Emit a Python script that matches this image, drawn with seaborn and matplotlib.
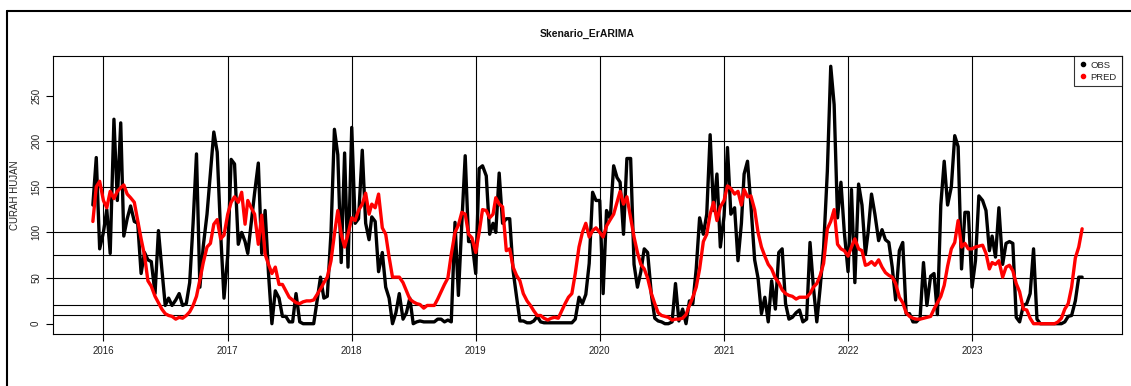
import pandas as pd
import seaborn as sns
import matplotlib.pyplot as plt
import matplotlib.dates as mdates
from matplotlib.lines import Line2D

## Curah hujan dasarian (Des - Nov tiap musim), hasil baca dari grafik
obs_1516 = [130, 182, 82, 100, 125, 77, 224, 135, 220, 96, 115, 129,
            112, 110, 55, 78, 70, 68, 33, 102, 60, 20, 28, 20,
            26, 33, 20, 22, 45, 110, 186, 40, 85, 120, 165, 210]
obs_1617 = [188, 100, 28, 75, 180, 175, 87, 100, 90, 77, 110, 143,
            176, 77, 124, 55, 0, 36, 28, 8, 8, 2, 2, 33,
            2, 0, 0, 0, 0, 25, 51, 28, 30, 100, 213, 185]
obs_1718 = [67, 187, 62, 215, 110, 115, 190, 110, 92, 117, 112, 57,
            78, 40, 28, 0, 12, 33, 5, 12, 28, 0, 2, 3,
            2, 2, 2, 2, 5, 5, 2, 4, 2, 111, 31, 110]
obs_1819 = [184, 90, 90, 55, 170, 173, 162, 98, 110, 100, 165, 110,
            115, 115, 58, 30, 3, 3, 1, 1, 3, 8, 2, 1,
            1, 1, 1, 1, 1, 1, 1, 1, 5, 29, 22, 32]
obs_1920 = [66, 144, 135, 135, 33, 124, 115, 173, 160, 155, 98, 181,
            181, 65, 40, 57, 82, 78, 32, 6, 3, 2, 0, 0,
            2, 44, 3, 16, 0, 25, 22, 60, 116, 98, 120, 207]
obs_2021 = [124, 164, 84, 118, 193, 120, 127, 69, 110, 164, 178, 130,
            70, 50, 11, 29, 2, 47, 16, 78, 82, 22, 5, 7,
            12, 15, 2, 5, 89, 40, 2, 40, 83, 167, 282, 240]
obs_2122 = [116, 155, 100, 57, 147, 45, 153, 130, 76, 100, 142, 120,
            91, 103, 92, 89, 62, 26, 80, 89, 11, 11, 2, 2,
            6, 67, 20, 52, 55, 10, 130, 178, 130, 150, 206, 194]
obs_2223 = [60, 122, 122, 40, 69, 140, 135, 124, 80, 96, 73, 127,
            65, 88, 90, 88, 7, 2, 20, 22, 33, 82, 5, 0,
            0, 0, 0, 0, 0, 0, 2, 8, 9, 25, 51, 51]

pred_1516 = [112, 150, 156, 135, 127, 145, 137, 145, 149, 152, 142, 138,
             133, 113, 93, 75, 47, 41, 30, 23, 16, 11, 9, 8,
             5, 7, 6, 9, 13, 20, 30, 48, 67, 84, 88, 109]
pred_1617 = [114, 93, 97, 120, 133, 139, 133, 144, 109, 135, 127, 120,
             87, 119, 76, 65, 55, 62, 43, 43, 36, 29, 26, 23,
             22, 24, 25, 25, 26, 32, 38, 45, 51, 69, 98, 124]
pred_1718 = [98, 84, 98, 116, 113, 124, 131, 143, 120, 131, 127, 142,
             105, 98, 73, 51, 51, 51, 45, 36, 27, 24, 22, 21,
             17, 20, 20, 20, 27, 35, 43, 50, 76, 100, 108, 122]
pred_1819 = [120, 98, 94, 78, 100, 125, 124, 116, 120, 138, 131, 128,
             80, 82, 62, 53, 47, 33, 25, 20, 14, 9, 9, 6,
             4, 6, 7, 6, 14, 22, 29, 33, 55, 84, 100, 110]
pred_1920 = [95, 102, 105, 100, 95, 107, 114, 120, 133, 145, 131, 139,
             116, 95, 78, 65, 60, 50, 33, 22, 12, 9, 8, 7,
             4, 5, 5, 6, 10, 20, 29, 40, 60, 90, 98, 120]
pred_2021 = [133, 113, 128, 135, 151, 148, 142, 145, 130, 147, 139, 140,
             125, 100, 84, 74, 65, 60, 50, 45, 37, 33, 31, 30,
             27, 29, 29, 29, 33, 40, 44, 53, 66, 104, 112, 125]
pred_2122 = [87, 82, 80, 74, 84, 93, 82, 80, 64, 65, 68, 64,
             70, 62, 56, 53, 51, 44, 29, 23, 12, 8, 6, 5,
             5, 6, 7, 8, 16, 23, 30, 42, 63, 82, 89, 113]
pred_2223 = [84, 88, 82, 82, 84, 85, 86, 77, 60, 67, 65, 69,
             51, 62, 64, 58, 44, 35, 16, 15, 6, 0, 0, 0,
             0, 0, 0, 0, 2, 6, 16, 22, 40, 72, 84, 104]

garis_h = [10, 20, 50, 75, 100, 150, 200]
tahun = [2016, 2017, 2018, 2019, 2020, 2021, 2022, 2023]
yticks = [0, 50, 100, 150, 200, 250]

obs = (obs_1516 + obs_1617 + obs_1718 + obs_1819
       + obs_1920 + obs_2021 + obs_2122 + obs_2223)
pred = (pred_1516 + pred_1617 + pred_1718 + pred_1819
        + pred_1920 + pred_2021 + pred_2122 + pred_2223)

bulan = pd.date_range('2015-12-01', '2023-11-01', freq='MS')
tanggal = [b + pd.Timedelta(days=d) for b in bulan for d in (0, 10, 20)]
df = pd.DataFrame({'tanggal': tanggal, 'OBS': obs, 'PRED': pred})
df_long = df.melt(id_vars='tanggal', var_name='seri', value_name='ch')

sns.set_style('white')
plt.rcParams['font.family'] = ['Liberation Sans', 'DejaVu Sans']

W, H = 1131, 386
fig = plt.figure(figsize=(W / 100, H / 100), dpi=100)
ax = fig.add_axes([53.3 / W, 1 - 334 / H, (1121.7 - 53.3) / W, (334 - 56) / H])

for h in garis_h:
    ax.axhline(h, color='black', lw=0.8, zorder=1)
for t in tahun:
    ax.axvline(pd.Timestamp(f'{t}-01-01'), color='black', lw=0.8, zorder=1)

sns.lineplot(data=df_long, x='tanggal', y='ch', hue='seri',
             palette={'OBS': 'black', 'PRED': 'red'}, lw=2.4,
             legend=False, ax=ax, zorder=3)

# range ala R (4% di tiap sisi)
x0 = mdates.date2num(df['tanggal'].min())
x1 = mdates.date2num(df['tanggal'].max())
ax.set_xlim(x0 - 0.04 * (x1 - x0), x1 + 0.04 * (x1 - x0))
ymin = min(min(obs), min(pred))
ymax = max(max(obs), max(pred))
ax.set_ylim(ymin - 0.04 * (ymax - ymin), ymax + 0.04 * (ymax - ymin))

ax.set_xticks([pd.Timestamp(f'{t}-01-01') for t in tahun])
ax.set_xticklabels([str(t) for t in tahun])
ax.set_yticks(yticks)
ax.set_yticklabels([str(v) for v in yticks], rotation=90, va='center')
ax.tick_params(axis='both', direction='out', length=4.8, width=0.8,
               labelsize=7, colors='black', labelcolor='#222222')
ax.tick_params(axis='x', pad=3.5)
ax.tick_params(axis='y', pad=4)
ax.tick_params(bottom=True, left=True)
for s in ax.spines.values():
    s.set_color('black')
    s.set_linewidth(0.8)

ax.set_xlabel('')
ax.set_ylabel('CURAH HUJAN', fontsize=7, color='#222222', va='center')
ax.yaxis.set_label_coords(-0.0358, 0.5)

fig.text(587.5 / W, 1 - 34.3 / H, 'Skenario_ErARIMA', ha='center', va='center',
         fontsize=7.5, fontweight='bold', color='#111111')

handles = [Line2D([], [], marker='o', ls='', color='black', markersize=3),
           Line2D([], [], marker='o', ls='', color='red', markersize=3)]
leg = ax.legend(handles, ['OBS', 'PRED'], loc='upper right', fontsize=6.8,
                frameon=True, fancybox=False, edgecolor='black',
                borderaxespad=0, handletextpad=0.3, borderpad=0.5,
                labelspacing=0.3, handlelength=1.0)
leg.get_frame().set_linewidth(0.8)
leg.set_zorder(5)

# bingkai luar (potongan layar)
fig.add_artist(Line2D([6.7 / W, 1], [1 - 10.7 / H] * 2, color='black', lw=1.5,
                      transform=fig.transFigure))
fig.add_artist(Line2D([6.7 / W] * 2, [0, 1 - 10.7 / H], color='black', lw=1.5,
                      transform=fig.transFigure))

fig.savefig('out.png', dpi=100)
